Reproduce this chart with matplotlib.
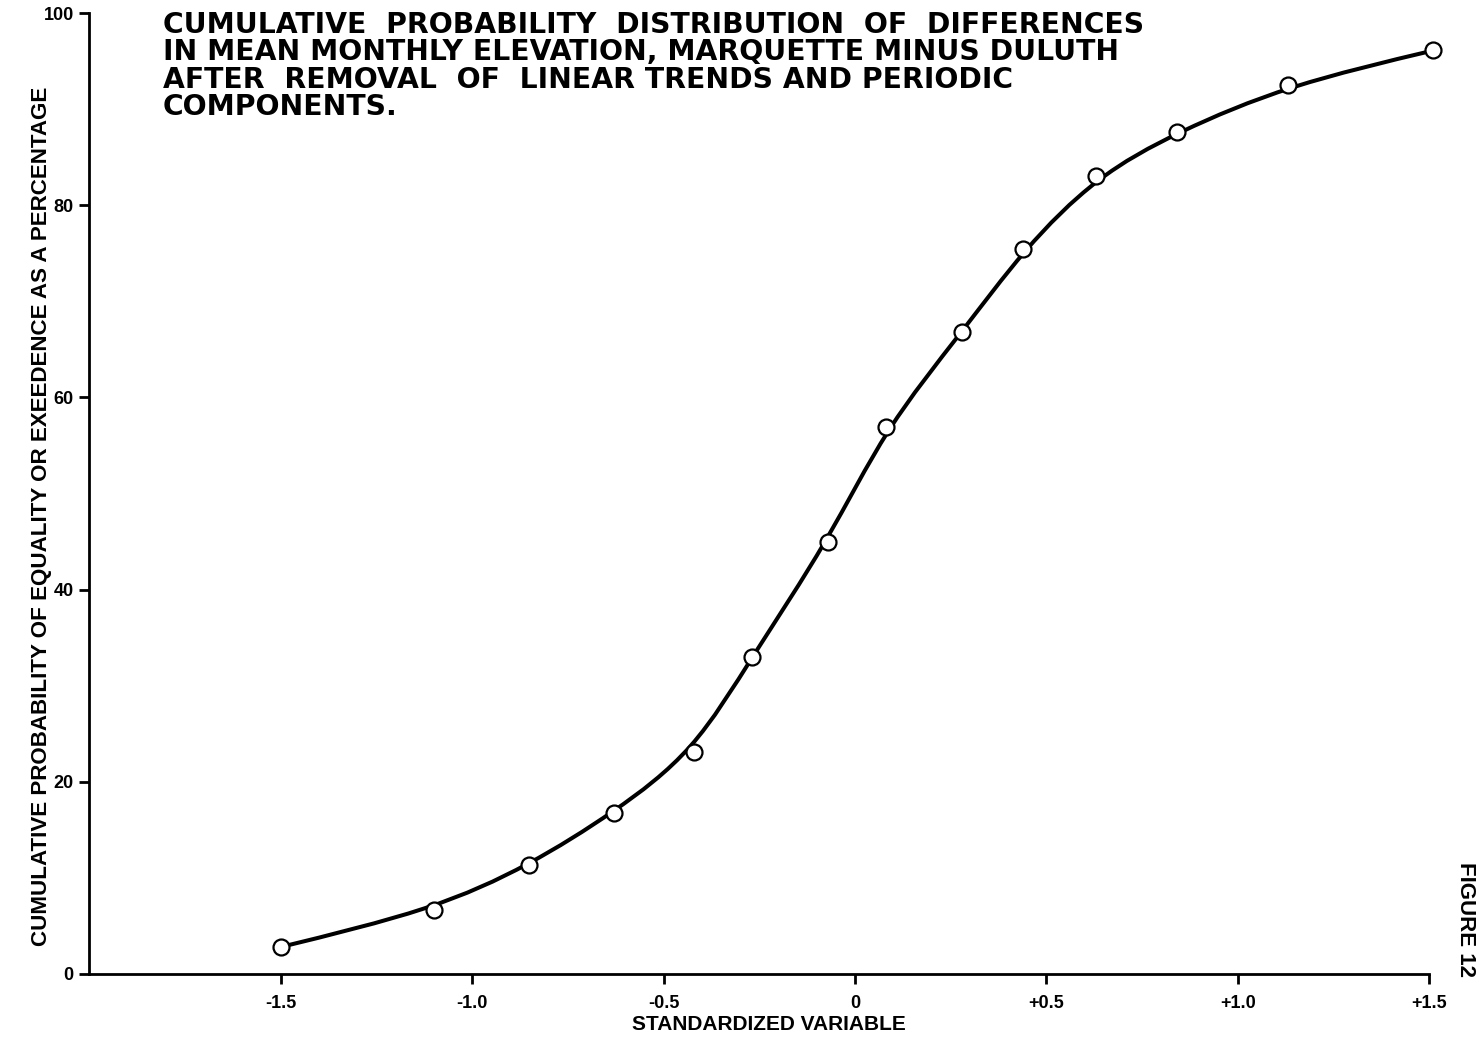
import matplotlib
matplotlib.use("Agg")
import matplotlib.pyplot as plt
import numpy as np
from matplotlib.path import Path
from matplotlib.patches import PathPatch

plt.rcParams["font.family"] = ["Liberation Sans", "DejaVu Sans"]

# ---------------------------------------------------------------------------
# Data
# ---------------------------------------------------------------------------
std_var = [-1.50, -1.10, -0.85, -0.63, -0.42, -0.27, -0.07,
           0.08, 0.28, 0.44, 0.63, 0.84, 1.13, 1.51]
cum_pct = [2.8, 6.7, 11.3, 16.8, 23.1, 33.0, 45.0,
           56.9, 66.8, 75.4, 83.0, 87.6, 92.5, 96.1]

x_ticks = [-1.5, -1.0, -0.5, 0.0, 0.5, 1.0, 1.5]
x_tick_labels = ["-1.5", "-1.0", "-0.5", "0", "+0.5", "+1.0", "+1.5"]
y_ticks = [0, 20, 40, 60, 80, 100]

title_lines = [
    "CUMULATIVE  PROBABILITY  DISTRIBUTION  OF  DIFFERENCES",
    "IN MEAN MONTHLY ELEVATION, MARQUETTE MINUS DULUTH",
    "AFTER  REMOVAL  OF  LINEAR TRENDS AND PERIODIC",
    "COMPONENTS.",
]
y_label = "CUMULATIVE PROBABILITY OF EQUALITY OR EXEEDENCE AS A PERCENTAGE"
x_label = "STANDARDIZED VARIABLE"


def _smooth_path(xs, ys):
    """Hand-drawn-style smooth curve: cubic B-spline with the observed
    points as control points (ends pinned to the first and last point),
    written out as Bezier segments."""
    pts = np.column_stack([xs, ys]).astype(float)
    q = np.vstack([2 * pts[0] - pts[1], pts, 2 * pts[-1] - pts[-2]])
    verts = [pts[0]]
    codes = [Path.MOVETO]
    for i in range(len(q) - 3):
        b0, b1, b2, b3 = q[i:i + 4]
        verts += [(2 * b1 + b2) / 3, (b1 + 2 * b2) / 3, (b1 + 4 * b2 + b3) / 6]
        codes += [Path.CURVE4] * 3
    return Path(verts, codes)


fig = plt.figure(figsize=(14.77, 10.4), dpi=100)
ax = fig.add_axes([0.0603, 0.0635, 0.9075, 0.924])

ax.add_patch(PathPatch(_smooth_path(std_var, cum_pct),
                       facecolor="none", edgecolor="black", linewidth=2.9,
                       zorder=3, clip_on=False))
ax.plot(std_var, cum_pct, linestyle="none", marker="o", markersize=11.5,
        markerfacecolor="white", markeredgecolor="black",
        markeredgewidth=1.6, zorder=4, clip_on=False)

ax.set_xlim(-2.0, 1.5)
ax.set_ylim(0, 100)
ax.set_xticks(x_ticks)
ax.set_xticklabels(x_tick_labels)
ax.set_yticks(y_ticks)

for side in ("top", "right"):
    ax.spines[side].set_visible(False)
for side in ("left", "bottom"):
    ax.spines[side].set_linewidth(2)

ax.tick_params(axis="both", direction="out", length=7, width=2,
               labelsize=13)
ax.tick_params(axis="x", pad=8)
ax.tick_params(axis="y", pad=4)
for lab in ax.get_xticklabels() + ax.get_yticklabels():
    lab.set_fontweight("bold")

fig.text(163 / 1477, 1 - 11 / 1040, "\n".join(title_lines),
         ha="left", va="top", fontsize=20.3, fontweight="bold",
         family=["DejaVu Sans"], linespacing=0.97)
fig.text(42 / 1477, 1 - 516 / 1040, y_label, rotation=90,
         ha="center", va="center", fontsize=16.1, fontweight="bold")
fig.text(769 / 1477, 1 - 1025 / 1040, x_label,
         ha="center", va="center", fontsize=15, fontweight="bold")
fig.text(1476 / 1477, 1 - 919 / 1040, "FIGURE 12", rotation=270,
         ha="right", va="center", fontsize=16, fontweight="bold")

fig.savefig("out.png", dpi=100)
